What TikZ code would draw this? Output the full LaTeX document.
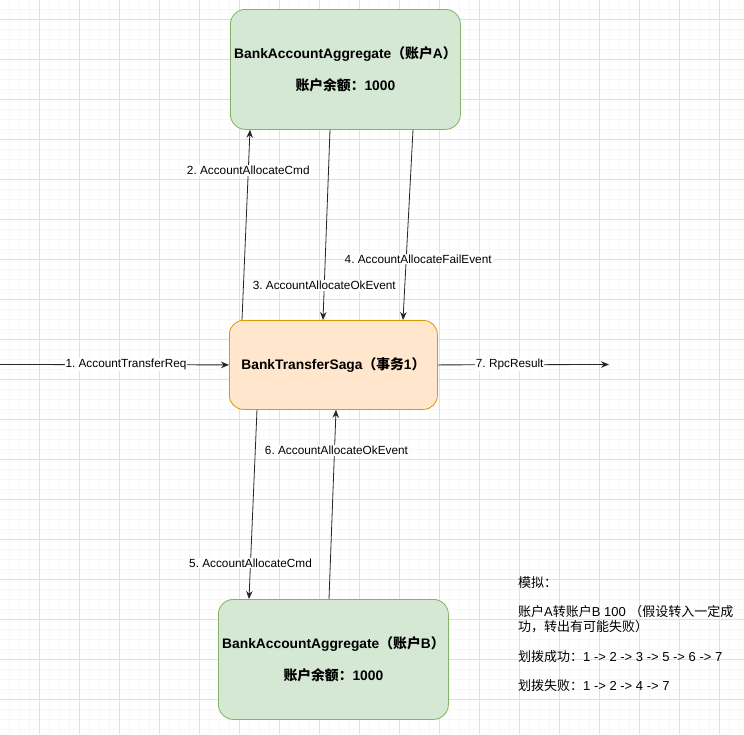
\documentclass[tikz,border=0pt]{standalone}
\usepackage{fontspec}
\setmainfont{Liberation Sans}
\newfontfamily\cjk{Noto Sans CJK SC}
\usetikzlibrary{arrows.meta,calc}
\definecolor{gfill}{HTML}{D5E8D4}
\definecolor{gline}{HTML}{82B366}
\definecolor{ofill}{HTML}{FFE6CC}
\definecolor{oline}{HTML}{D79B00}
\newcommand{\zh}[1]{{\cjk #1}}
\frenchspacing
\tikzset{
  x=1pt,y=-1pt,
  greenbox/.style={draw=gline,fill=gfill,rounded corners=15pt,line width=0.8pt,minimum width=230pt,minimum height=120pt,anchor=north west,align=center,font=\fontsize{13.8}{15}\selectfont\bfseries,inner sep=0pt},
  sagabox/.style={draw=oline,fill=ofill,rounded corners=14pt,line width=0.8pt,minimum width=208pt,minimum height=89pt,anchor=north west,align=center,font=\fontsize{13.8}{15}\selectfont\bfseries,inner sep=0pt},
  flow/.style={draw=black!85,line width=0.8pt,-{Stealth[length=8pt,width=6.5pt]}},
  elabel/.style={fill=white,inner sep=1pt,font=\fontsize{11.8}{13}\selectfont,text=black},
}
\begin{document}
\begin{tikzpicture}
\useasboundingbox (0,0) rectangle (744,734);
\fill[white] (0,0) rectangle (744,734);
% grid
\foreach \i in {0,...,73} {\draw[black!3,line width=0.6pt] (9.5+10*\i,0) -- (9.5+10*\i,734);}
\foreach \i in {0,...,73} {\draw[black!3,line width=0.6pt] (0,9.5+10*\i) -- (744,9.5+10*\i);}
\foreach \i in {0,...,18} {\draw[black!12,line width=0.7pt] (39.5+40*\i,0) -- (39.5+40*\i,734);}
\foreach \i in {0,...,18} {\draw[black!12,line width=0.7pt] (0,19.5+40*\i) -- (744,19.5+40*\i);}

\node[greenbox] (A) at (230,9) {BankAccountAggregate\zh{（账户}A\zh{）}\\[17pt]\zh{账户余额：}1000};
\node[sagabox] (S) at (229,320) {BankTransferSaga\zh{（事务}1\zh{）}};
\node[greenbox] (B) at (218,599) {BankAccountAggregate\zh{（账户}B\zh{）}\\[17pt]\zh{账户余额：}1000};

\coordinate (in) at (0,364.5);
\coordinate (out) at (609,364.5);

\draw[flow] (in) -- (S.west) node[elabel,pos=0.55] {1. AccountTransferReq};
\draw[flow] ($(S.north west)+(13,0)$) -- ($(A.south west)+(20,0)$) node[elabel,pos=0.785] {2. AccountAllocateCmd};
\draw[flow] ($(A.south west)+(100,0)$) -- ($(S.north west)+(94,0)$) node[elabel,pos=0.817] {3. AccountAllocateOkEvent};
\draw[flow] ($(A.south west)+(183,0)$) -- ($(S.north west)+(174,0)$) node[elabel,pos=0.68,xshift=12pt] {4. AccountAllocateFailEvent};
\draw[flow] ($(S.south west)+(28,0)$) -- ($(B.north west)+(31,0)$) node[elabel,pos=0.81] {5. AccountAllocateCmd};
\draw[flow] ($(B.north west)+(111,0)$) -- ($(S.south west)+(107,0)$) node[elabel,pos=0.784,xshift=2pt] {6. AccountAllocateOkEvent};
\draw[flow] (S.east) -- (out) node[elabel,pos=0.42] {7. RpcResult};

\node[anchor=north west,align=left,inner sep=0pt,font=\fontsize{13}{14.8}\selectfont] (note) at (518,576)
{\zh{模拟：}\\ \\ \zh{账户}A\zh{转账户}B 100 \zh{（假设转入一定成}\\ \zh{功，转出有可能失败）}\\ \\ \zh{划拨成功：}1 -> 2 -> 3 -> 5 -> 6 -> 7\\ \\ \zh{划拨失败：}1 -> 2 -> 4 -> 7};
\end{tikzpicture}
\end{document}
